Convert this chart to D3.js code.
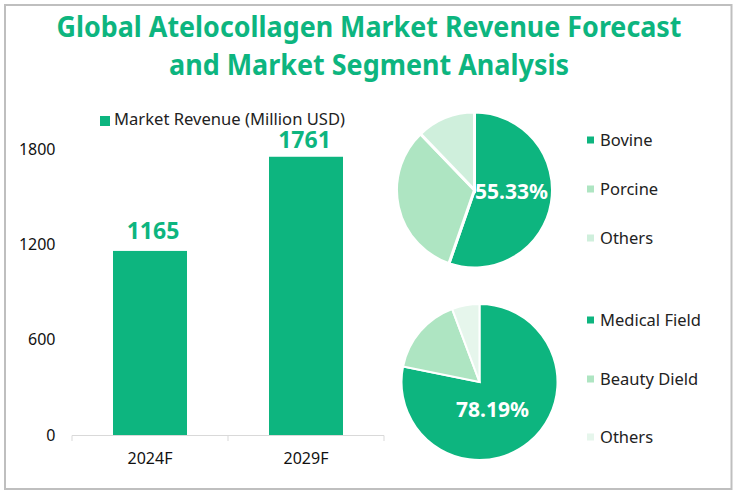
<!DOCTYPE html>
<html><head><meta charset="utf-8">
<script src="https://cdnjs.cloudflare.com/ajax/libs/d3/7.8.5/d3.min.js"></script>
<style>html,body{margin:0;padding:0;background:#fff}svg{display:block}text{font-family:"Noto Sans","Open Sans",sans-serif}</style>
</head><body><svg id="c" width="738" height="494"></svg>
<script>
const titleLines = ["Global Atelocollagen Market Revenue Forecast","and Market Segment Analysis"];
const years = ["2024F","2029F"];
const revenue = [1165,1761];
const yTicks = [0,600,1200,1800];
const barLegend = "Market Revenue (Million USD)";
const sourceNames = ["Bovine","Porcine","Others"];
const sourceShares = [55.33,32.47,12.2];
const useNames = ["Medical Field","Beauty Dield","Others"];
const useShares = [78.19,16.1,5.71];
const green="#0db57f", mid="#aee5c2", light="#cfefdc", pale="#e6f6ec";

const svg=d3.select("#c");
svg.append("rect").attr("x",5).attr("y",5).attr("width",726.5).attr("height",484).attr("fill","#fff").attr("stroke","#bfbfbf").attr("stroke-width",2);
titleLines.forEach((t,i)=>svg.append("text").attr("x",369).attr("y",[37,75][i]).attr("text-anchor","middle").attr("font-size",29).attr("font-weight",700).attr("fill",green)
  .attr("textLength",[625,400][i]).attr("lengthAdjust","spacingAndGlyphs").text(t));

const x=d3.scaleBand().domain(years).range([72,384]);
const y=d3.scaleLinear().domain([0,1800]).range([435,150.6]);
// the reference's tick labels sit on a slightly wider spacing than its bars imply
const yLabels=d3.scaleLinear().domain([0,1800]).range([435,149]);
const bw=74;
svg.selectAll(".bar").data(revenue).join("rect").attr("class","bar")
 .attr("x",(d,i)=>x(years[i])+x.bandwidth()/2-bw/2).attr("width",bw)
 .attr("y",d=>y(d)).attr("height",d=>y(0)-y(d)).attr("fill",green);
svg.selectAll(".val").data(revenue).join("text").attr("class","val")
 .attr("x",(d,i)=>x(years[i])+x.bandwidth()/2+[3,-1.5][i]).attr("y",(d,i)=>y(d)+[-11.5,-9][i]).attr("text-anchor","middle")
 .attr("font-size",23).attr("font-weight",700).attr("fill",green).text(d=>d);
const ax=d3.axisBottom(x).tickSize(0).tickPadding(17);
const gx=svg.append("g").attr("transform","translate(0,435.5)").call(ax);
gx.select(".domain").remove();
gx.selectAll("text").attr("font-size",16).attr("fill","#111").attr("font-family",'"Noto Sans",sans-serif');
svg.append("path").attr("d",d3.line()([[x.range()[0],441],[x.range()[0],435.5],[x.range()[1],435.5]])).attr("fill","none").attr("stroke","#d9d9d9").attr("stroke-width",1);
svg.selectAll(".tk").data(years).join("line").attr("class","tk").attr("x1",d=>x(d)+x.bandwidth()).attr("x2",d=>x(d)+x.bandwidth()).attr("y1",435.5).attr("y2",441).attr("stroke","#d9d9d9");
const ay=d3.axisLeft(yLabels).tickValues(yTicks).tickFormat(d3.format("d")).tickSize(0).tickPadding(0);
const gy=svg.append("g").attr("transform","translate(55.5,0)").call(ay);
gy.select(".domain").remove();
gy.selectAll("text").attr("font-size",16).attr("fill","#111").attr("font-family",'"Noto Sans",sans-serif');

svg.append("rect").attr("x",100).attr("y",116).attr("width",10).attr("height",10).attr("fill",green);
svg.append("text").attr("x",114).attr("y",124.5).attr("font-size",16).attr("textLength",231).attr("lengthAdjust","spacingAndGlyphs").attr("fill","#222").text(barLegend);

function pie(cx,cy,r,vals,cols,sw,label,lx,ly){
  const arcs=d3.pie().sort(null)(vals);
  const arc=d3.arc().innerRadius(0).outerRadius(r);
  const g=svg.append("g").attr("transform",`translate(${cx},${cy})`);
  g.selectAll("path").data(arcs).join("path").attr("d",arc).attr("fill",(d,i)=>cols[i]).attr("stroke","#fff").attr("stroke-width",sw);
  svg.append("text").attr("x",lx).attr("y",ly).attr("text-anchor","middle").attr("font-size",21).attr("font-weight",700).attr("fill","#fff").text(label);
}
function legend(names,cols,ys,sx){
  names.forEach((n,i)=>{
    svg.append("rect").attr("x",sx).attr("y",ys[i]-3.5).attr("width",7).attr("height",7).attr("fill",cols[i]);
    svg.append("text").attr("x",sx+13).attr("y",ys[i]+6).attr("font-size",16.5).attr("fill","#222").text(n);
  });
}
pie(474.5,190,78,sourceShares,[green,mid,light],3,d3.format(".2f")(sourceShares[0])+"%",511.5,198.5);
legend(sourceNames,[green,mid,light],[140,189,238],587);
pie(479.5,382,78,useShares,[green,mid,pale],2,d3.format(".2f")(useShares[0])+"%",492.5,417);
legend(useNames,[green,mid,pale],[320,379,437],587);
</script></body></html>
